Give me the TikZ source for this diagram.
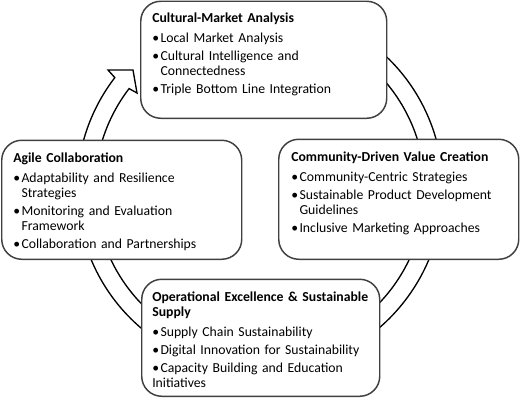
\documentclass[tikz,border=0pt]{standalone}
\usepackage{fontspec}
\setmainfont{Carlito}
\usepackage{tikz}
\usepackage{xcolor}

\definecolor{boxline}{RGB}{64,64,64}
\newcommand{\px}{0.75pt}
\newcommand{\itm}[1]{\par\hangindent=6.2pt\hangafter=1\noindent\makebox[6.2pt][l]{\textbullet}#1}
\newcommand{\ttl}[1]{\noindent{\bfseries #1}\par\vspace{1.5pt}}

\begin{document}
\begin{tikzpicture}[x=\px, y=\px,
  box/.style={draw=boxline, line width=1.1pt, fill=white, rounded corners=15pt, anchor=south west},
  txt/.style={anchor=north west, inner sep=0pt, text width=228*\px, align=left,
    font=\fontsize{10.3pt}{11.4pt}\selectfont\setlength{\parskip}{2pt}},
  ring/.style={draw=black, line width=1pt}]
  \useasboundingbox (0,0) rectangle (520,401);

  %coordinates
  \coordinate (Ctr)    at (260,212);
  \coordinate (CMABox) at (140,282);
  \coordinate (CDVBox) at (278,141);
  \coordinate (OESBox) at (141,4);
  \coordinate (AGCBox) at (1,141);

  %circular arrow
  \draw[ring, shift={(Ctr)}] (142.5:183*\px) arc[start angle=142.5, end angle=440, radius=183*\px]
    -- (440:165*\px) arc[start angle=440, end angle=142.5, radius=165*\px]
    -- (-123,96) -- (-127,119) -- (-152,119) -- cycle;

  %nodes
  \node[box, minimum width=246*\px, minimum height=117*\px] (A) at (CMABox) {};
  \node[box, minimum width=240*\px, minimum height=120*\px] (B) at (CDVBox) {};
  \node[box, minimum width=238*\px, minimum height=117*\px] (C) at (OESBox) {};
  \node[box, minimum width=240*\px, minimum height=119*\px] (D) at (AGCBox) {};

  \node[txt] (At) at ([shift={(12,-12)}]A.north west) {\ttl{Cultural-Market Analysis}
    \itm{Local Market Analysis}
    \itm{Cultural Intelligence and\newline Connectedness}
    \itm{Triple Bottom Line Integration}};
  \node[txt] (Bt) at ([shift={(13,-13)}]B.north west) {\ttl{Community-Driven Value Creation}
    \itm{Community-Centric Strategies}
    \itm{Sustainable Product Development\newline Guidelines}
    \itm{Inclusive Marketing Approaches}};
  \node[txt] (Ct) at ([shift={(11,-13)}]C.north west) {\ttl{Operational Excellence \& Sustainable\newline Supply}
    \itm{Supply Chain Sustainability}
    \itm{Digital Innovation for Sustainability}
    \itm{Capacity Building and Education\newline Initiatives}};
  \node[txt] (Dt) at ([shift={(12,-13)}]D.north west) {\ttl{Agile Collaboration}
    \itm{Adaptability and Resilience\newline Strategies}
    \itm{Monitoring and Evaluation\newline Framework}
    \itm{Collaboration and Partnerships}};

\end{tikzpicture}
\end{document}
